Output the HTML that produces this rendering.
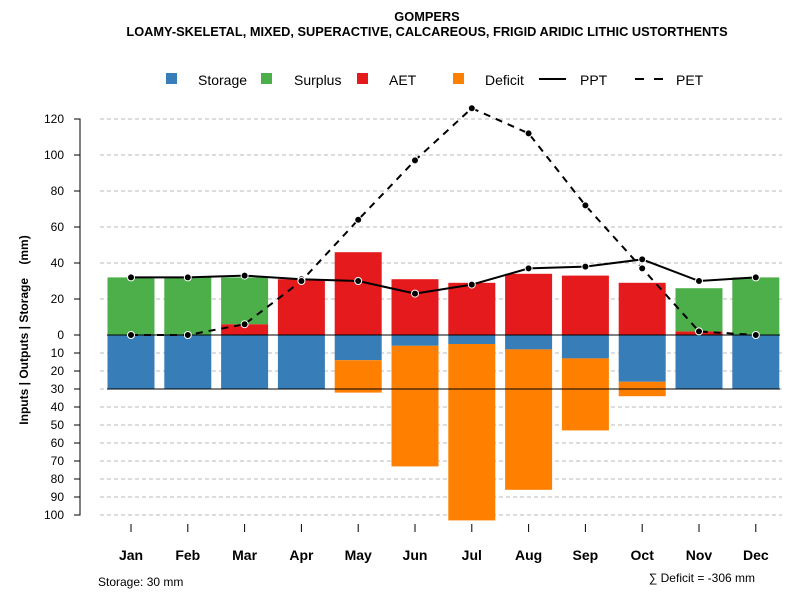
<!DOCTYPE html>
<html><head><meta charset="utf-8"><style>
body{margin:0;background:#fff;font-family:"Liberation Sans",sans-serif;}
svg text{font-family:"Liberation Sans",sans-serif;}
</style></head><body>
<svg id="c" width="800" height="600" xmlns="http://www.w3.org/2000/svg">
<text x="427" y="21" text-anchor="middle" font-size="12.8" font-weight="bold">GOMPERS</text>
<text x="427" y="36" text-anchor="middle" font-size="12.8" font-weight="bold">LOAMY-SKELETAL, MIXED, SUPERACTIVE, CALCAREOUS, FRIGID ARIDIC LITHIC USTORTHENTS</text>
<g font-size="14">
<g><rect x="166" y="73" width="11" height="11" fill="#377eb8"/><text x="198" y="85">Storage</text></g>
<g><rect x="261" y="73" width="11" height="11" fill="#4daf4a"/><text x="294" y="85">Surplus</text></g>
<g><rect x="357" y="73" width="11" height="11" fill="#e41a1c"/><text x="389" y="85">AET</text></g>
<g><rect x="453" y="73" width="11" height="11" fill="#ff7f00"/><text x="485" y="85">Deficit</text></g>
<g><line x1="539" y1="79" x2="566" y2="79" stroke="#000" stroke-width="2"/><text x="580" y="85">PPT</text></g>
<g><line x1="635" y1="79" x2="666" y2="79" stroke="#000" stroke-width="2" stroke-dasharray="9,10"/><text x="676" y="85">PET</text></g>
</g>
<g id="grid"></g><g id="bars"></g><g id="lines"></g><g id="axes"></g>
<text transform="translate(28,330) rotate(-90)" text-anchor="middle" font-size="12" font-weight="bold" xml:space="preserve" style="white-space:pre">Inputs | Outputs | Storage    (mm)</text>
<text x="98" y="586" font-size="12">Storage: 30 mm</text>
<text x="755" y="582" text-anchor="end" font-size="12">∑ Deficit = -306 mm</text>
</svg>
<script>
const months=["Jan","Feb","Mar","Apr","May","Jun","Jul","Aug","Sep","Oct","Nov","Dec"];
const storage=[30,30,30,30,14,6,5,8,13,26,30,30];
const deficit=[0,0,0,0,18,67,98,78,40,8,0,0];
const aet=[0,0,6,31,46,31,29,34,33,29,2,0];
const surplus=[32,32,26,0,0,0,0,0,0,0,24,32];
const ppt=[32,32,33,31,30,23,28,37,38,42,30,32];
const pet=[0,0,6,30,64,97,126,112,72,37,2,0];
const upTicks=[0,20,40,60,80,100,120];
const downTicks=[10,20,30,40,50,60,70,80,90,100];
const NS="http://www.w3.org/2000/svg";
const y0=335,k=1.8;
const yUp=v=>y0-v*k, yDn=v=>y0+v*k;
const xc=i=>131+i*56.8;
const bw=47;
function mk(t,a,p){const e=document.createElementNS(NS,t);for(const n in a)e.setAttribute(n,a[n]);p.appendChild(e);return e;}
const G=document.getElementById('grid'),B=document.getElementById('bars'),L=document.getElementById('lines'),A=document.getElementById('axes');
upTicks.forEach(v=>{if(v>0){const l=mk('line',{x1:100,x2:782,y1:yUp(v),y2:yUp(v),stroke:'#bbb','stroke-dasharray':'4,3'},G);

}});
downTicks.forEach(v=>{const l=mk('line',{x1:100,x2:782,y1:yDn(v),y2:yDn(v),stroke:'#bbb','stroke-dasharray':'4,3'},G);

});
months.forEach((m,i)=>{
 const x=xc(i)-bw/2;
 let r=mk('rect',{x:x,y:y0,width:bw,height:storage[i]*k,fill:'#377eb8'},B);
 
 
 if(deficit[i]>0){r=mk('rect',{x:x,y:yDn(storage[i]),width:bw,height:deficit[i]*k,fill:'#ff7f00'},B);
 
 }
 if(aet[i]>0){r=mk('rect',{x:x,y:yUp(aet[i]),width:bw,height:aet[i]*k,fill:'#e41a1c'},B);
 
 }
 if(surplus[i]>0){r=mk('rect',{x:x,y:yUp(aet[i]+surplus[i]),width:bw,height:surplus[i]*k,fill:'#4daf4a'},B);
 
 }
 const t=mk('line',{x1:xc(i),x2:xc(i),y1:524,y2:532,stroke:'#000'},A);
 
 
 const tx=mk('text',{x:xc(i),y:560,'text-anchor':'middle','font-size':14,'font-weight':'bold'},A);tx.textContent=m;
 
 
});
let l=mk('line',{x1:107,x2:780,y1:y0,y2:y0,stroke:'#000'},L);


l=mk('line',{x1:107,x2:780,y1:yDn(30),y2:yDn(30),stroke:'#000'},L);


function series(arr,name,dash){
 const p=mk('polyline',{points:arr.map((v,i)=>xc(i)+','+yUp(v)).join(' '),fill:'none',stroke:'#000','stroke-width':2,'stroke-dasharray':dash},L);
 
 
 arr.forEach((v,i)=>{const c=mk('circle',{cx:xc(i),cy:yUp(v),r:3.5,fill:'#000',stroke:'#fff','stroke-width':1},L);
 
 });
}
series(ppt,'ppt','none');
series(pet,'pet','7,6');
l=mk('path',{d:'M74,'+yUp(120)+' H80 V'+yDn(100)+' H74',fill:'none',stroke:'#000'},A);


upTicks.concat(downTicks.map(v=>-v)).forEach(v=>{
 const y=v>=0?yUp(v):yDn(-v);
 const t=mk('line',{x1:74,x2:80,y1:y,y2:y,stroke:'#000'},A);
 
 
 const tx=mk('text',{x:64,y:y+4,'text-anchor':'end','font-size':12},A);tx.textContent=Math.abs(v);
 
 
});
</script>
</body></html>
